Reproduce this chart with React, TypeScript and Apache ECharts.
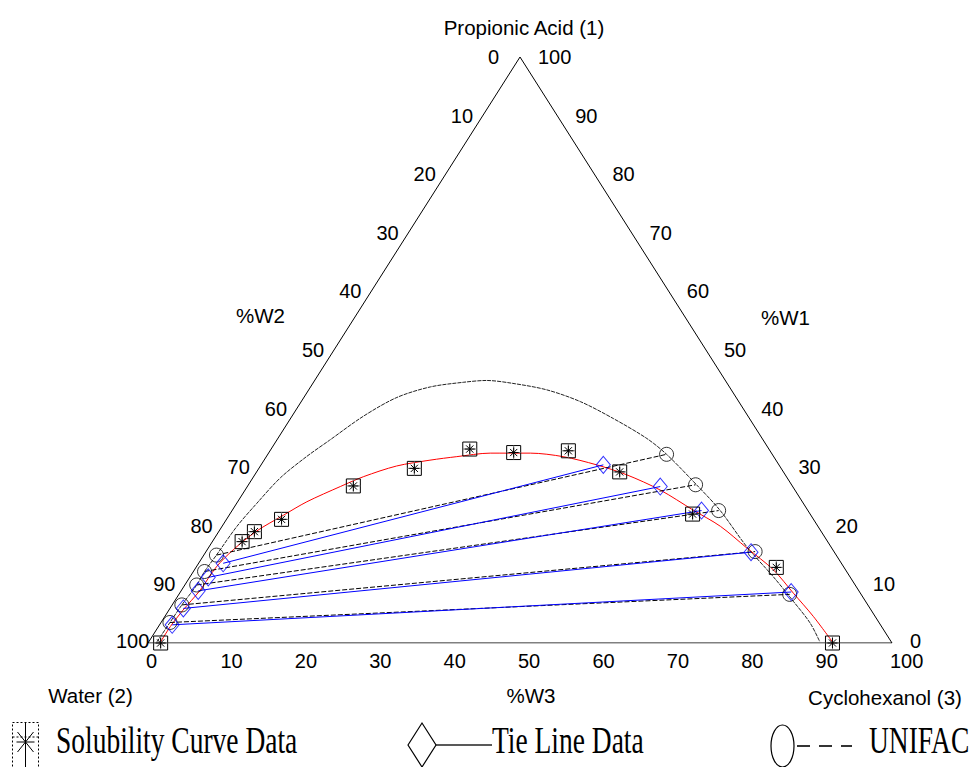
import React, { useEffect, useRef } from "react";
import * as echarts from "echarts";

// Tick values shared by the three sides of the ternary diagram
const ticks = [0, 10, 20, 30, 40, 50, 60, 70, 80, 90, 100];

// All compositions are [%W1 propionic acid, %W3 cyclohexanol]; %W2 water = 100 - W1 - W3
const solubilityPoints: number[][] = [
  [0.0, 1.7], [17.3, 4.0], [19.0, 4.8], [21.1, 7.4], [26.8, 14.2], [29.8, 20.9],
  [33.1, 26.7], [32.5, 32.9], [32.8, 40.1], [29.2, 48.8], [22.0, 62.2], [12.9, 78.0], [0.0, 92.0],
];

const solubilityCurve: number[][] = [
  [0, 1.6], [2.8, 1.6], [5.6, 1.9], [9.0, 2.5], [13.0, 2.7], [15.9, 3.5], [19.1, 5.05],
  [21.8, 7.3], [24.1, 9.3], [26.7, 12.5], [28.4, 14.8], [30.2, 18.3], [31.2, 22.3],
  [31.8, 25.6], [32.4, 29.8], [32.4, 35.2], [31.8, 39.9], [30.4, 45.1], [28.7, 50.0],
  [26.1, 55.8], [22.7, 61.9], [19.9, 67.0], [16.2, 72.4], [12.5, 77.8], [8.5, 82.5],
  [4.5, 87.2], [0, 92.1],
];

const unifacCurve: number[][] = [
  [0.2, 1.1], [3.5, 1.2], [6.5, 1.3], [9.9, 1.6], [12.2, 1.5], [15.0, 1.7], [19.9, 2.0],
  [23.8, 2.7], [28.2, 3.7], [31.8, 5.4], [34.6, 7.1], [38.7, 9.6], [41.9, 12.5],
  [43.7, 16.1], [44.5, 20.2], [44.8, 23.1], [44.3, 26.9], [43.2, 32.0], [41.2, 37.5],
  [38.3, 43.4], [34.9, 49.6], [32.2, 53.6], [27.1, 60.1], [22.7, 65.5], [16.4, 72.3],
  [11.3, 78.4], [7.1, 83.2], [3.4, 87.3], [0.2, 90.2],
];

// Tie lines: water-rich phase (left) and organic phase (right)
const expTieLeft: number[][] = [[13.6, 3.3], [11.2, 2.5], [8.9, 2.3], [5.9, 1.8], [3.1, 1.7]];
const expTieRight: number[][] = [[30.4, 46.0], [26.7, 55.5], [22.6, 63.1], [15.5, 73.3], [8.7, 82.1]];
const unifacTieLeft: number[][] = [[15.0, 1.7], [12.2, 1.5], [9.9, 1.6], [6.5, 1.3], [3.5, 1.2]];
const unifacTieRight: number[][] = [[32.2, 53.6], [27.0, 60.1], [22.6, 65.4], [15.6, 73.8], [8.3, 82.1]];

// Triangle corners: Water, Cyclohexanol, Propionic Acid
const corners: number[][] = [[0, 0], [0, 100], [100, 0], [0, 0]];

const toXY = (p: number[]) => [p[1] + p[0] / 2, p[0]];

const W = 972, H = 767;
const GL = 148, GT = 57, GW = 744, GH = 586;
const SANS = "'Liberation Sans', Arial, sans-serif";
const SERIF = "'Liberation Serif', 'Times New Roman', serif";

function sansText(text: string, x: number, y: number, align = "center", fontSize = 20.5) {
  return {
    type: "text", x, y, silent: true,
    style: { text, fontSize, lineHeight: fontSize, fontFamily: SANS, fill: "#000", align, verticalAlign: "middle" },
  };
}

function serifText(text: string, x: number) {
  return {
    type: "text", x, y: 740, scaleY: 1.36, silent: true,
    style: { text, fontSize: 27.5, fontFamily: SERIF, fill: "#000", align: "left", verticalAlign: "middle" },
  };
}

export default function App() {
  const ref = useRef<HTMLDivElement>(null);
  useEffect(() => {
    const chart = echarts.init(ref.current!, null, { renderer: "svg" });

    const graphics: any[] = [];
    const sideMaxY = 640.5;
    ticks.forEach((v) => {
      graphics.push(sansText(String(v), GL + (GW * v) / 100 - 2, 660.5, "left", 20));
      graphics.push(sansText(String(v), GL + (GW * (100 - v)) / 200 - 32, Math.min(GT + (GH * v) / 100, sideMaxY), "left", 20));
      graphics.push(sansText(String(v), GL + GW - (GW * v) / 200 + 18, Math.min(GT + GH - (GH * v) / 100, sideMaxY), "left", 20));
    });
    graphics.push(sansText("Propionic Acid (1)", 524, 27));
    graphics.push(sansText("%W2", 260.5, 315.5));
    graphics.push(sansText("%W1", 785.5, 317.5));
    graphics.push(sansText("%W3", 531, 695));
    graphics.push(sansText("Water (2)", 90.5, 695));
    graphics.push(sansText("Cyclohexanol (3)", 885, 697));

    // legend
    const lc = 25.5;
    graphics.push(
      { type: "rect", silent: true, shape: { x: 12.5, y: 722.5, width: 26, height: 48 }, style: { fill: "none", stroke: "#000", lineWidth: 1, lineDash: [2, 2] } },
      { type: "line", silent: true, shape: { x1: 12.5, y1: 737, x2: 38.5, y2: 737 }, style: { stroke: "#000", lineWidth: 1, lineDash: [2, 2] } },
      { type: "line", silent: true, shape: { x1: lc, y1: 722.5, x2: lc, y2: 767 }, style: { stroke: "#000", lineWidth: 1 } },
      { type: "line", silent: true, shape: { x1: lc - 8, y1: 732, x2: lc + 8, y2: 752 }, style: { stroke: "#000", lineWidth: 1 } },
      { type: "line", silent: true, shape: { x1: lc + 8, y1: 732, x2: lc - 8, y2: 752 }, style: { stroke: "#000", lineWidth: 1 } },
      { type: "line", silent: true, shape: { x1: lc - 9, y1: 742, x2: lc + 9, y2: 742 }, style: { stroke: "#000", lineWidth: 1 } },
      serifText("Solubility Curve Data", 56),
      { type: "polygon", silent: true, shape: { points: [[408, 745], [422, 723], [436, 745], [422, 767]] }, style: { fill: "none", stroke: "#000", lineWidth: 1.2 } },
      { type: "line", silent: true, shape: { x1: 436, y1: 745, x2: 492, y2: 745 }, style: { stroke: "#222", lineWidth: 1.6 } },
      serifText("Tie Line Data", 492),
      { type: "ellipse", silent: true, shape: { cx: 782.5, cy: 746, rx: 11.5, ry: 21 }, style: { fill: "none", stroke: "#000", lineWidth: 1.2 } },
      { type: "line", silent: true, shape: { x1: 797, y1: 746, x2: 810, y2: 746 }, style: { stroke: "#000", lineWidth: 1.6 } },
      { type: "line", silent: true, shape: { x1: 819, y1: 746, x2: 832, y2: 746 }, style: { stroke: "#000", lineWidth: 1.6 } },
      { type: "line", silent: true, shape: { x1: 841, y1: 746, x2: 852, y2: 746 }, style: { stroke: "#000", lineWidth: 1.6 } },
      serifText("UNIFAC", 869),
    );

    const tieData = (l: number[][], r: number[][]) =>
      l.map((p, i) => ({ coords: [toXY(p), toXY(r[i])] }));

    const option: any = {
      animation: false,
      backgroundColor: "#fff",
      grid: { left: GL, top: GT, width: GW, height: GH, containLabel: false },
      xAxis: { type: "value", min: 0, max: 100, show: false },
      yAxis: { type: "value", min: 0, max: 100, show: false },
      graphic: graphics,
      series: [
        {
          type: "line", data: corners.map(toXY), symbol: "none", silent: true,
          lineStyle: { color: "#000", width: 1 }, z: 2,
        },
        {
          type: "line", data: unifacCurve.map(toXY), symbol: "none", silent: true, smooth: 0.3,
          lineStyle: { color: "#222", width: 1, type: [4, 1] }, z: 3,
        },
        {
          type: "line", data: solubilityCurve.map(toXY), symbol: "none", silent: true, smooth: 0.3,
          lineStyle: { color: "#ff0000", width: 1 }, z: 4,
        },
        {
          type: "lines", coordinateSystem: "cartesian2d", silent: true,
          data: tieData(unifacTieLeft, unifacTieRight),
          lineStyle: { color: "#000", width: 1, type: [5, 2], opacity: 1 }, z: 5,
        },
        {
          type: "lines", coordinateSystem: "cartesian2d", silent: true,
          data: tieData(expTieLeft, expTieRight),
          lineStyle: { color: "#0000ff", width: 1, opacity: 1 }, z: 6,
        },
        {
          type: "scatter", data: unifacTieLeft.concat(unifacTieRight).map(toXY), silent: true,
          symbol: "circle", symbolSize: 14,
          itemStyle: { color: "rgba(0,0,0,0)", borderColor: "#000", borderWidth: 1 }, z: 7,
        },
        {
          type: "scatter", data: expTieLeft.concat(expTieRight).map(toXY), silent: true,
          symbol: "diamond", symbolSize: [14, 17],
          itemStyle: { color: "rgba(0,0,0,0)", borderColor: "#0000ff", borderWidth: 1 }, z: 8,
        },
        {
          type: "custom", data: solubilityPoints.map(toXY), silent: true, z: 9,
          encode: { x: 0, y: 1 },
          renderItem: (_params: any, api: any) => {
            const p = api.coord([api.value(0), api.value(1)]);
            const h = 7, a = 5, d = 3.6;
            const ln = (x1: number, y1: number, x2: number, y2: number, c: string) => ({
              type: "line", shape: { x1, y1, x2, y2 }, style: { stroke: c, lineWidth: 1 },
            });
            return {
              type: "group",
              children: [
                { type: "rect", shape: { x: p[0] - h, y: p[1] - h, width: 2 * h, height: 2 * h }, style: { fill: "none", stroke: "#000", lineWidth: 1 } },
                ln(p[0] - h, p[1], p[0] + h, p[1], "#777"),
                ln(p[0], p[1] - h, p[0], p[1] + h, "#777"),
                ln(p[0] - a, p[1], p[0] + a, p[1], "#000"),
                ln(p[0], p[1] - a, p[0], p[1] + a, "#000"),
                ln(p[0] - d, p[1] - d, p[0] + d, p[1] + d, "#000"),
                ln(p[0] - d, p[1] + d, p[0] + d, p[1] - d, "#000"),
              ],
            };
          },
        },
      ],
    };
    chart.setOption(option);
    return () => chart.dispose();
  }, []);
  return (
    <div
      ref={ref}
      style={{ position: "fixed", left: 0, top: 0, width: W, height: H, background: "#fff" }}
    />
  );
}
